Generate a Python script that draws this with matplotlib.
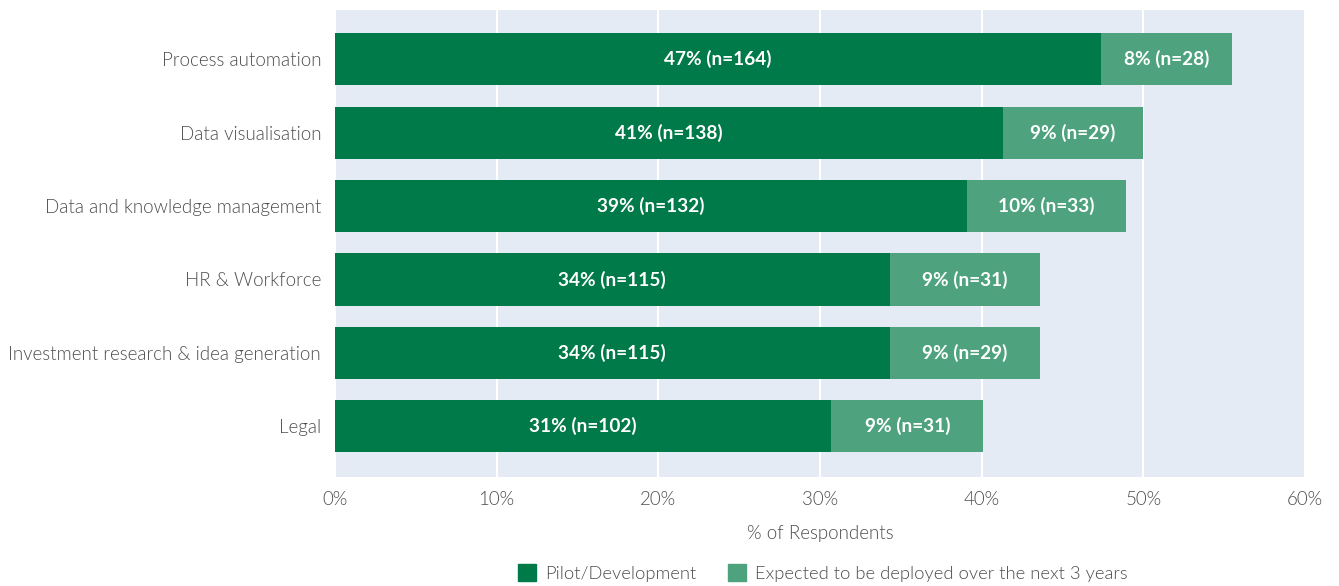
import numpy as np
import matplotlib
matplotlib.use("Agg")
import matplotlib.pyplot as plt
from matplotlib.patches import Patch

# survey results, share of respondents (%) and counts
categories = ["Process automation", "Data visualisation", "Data and knowledge management",
              "HR & Workforce", "Investment research & idea generation", "Legal"]
pilot_pct = [47.4, 41.3, 39.1, 34.3, 34.3, 30.7]
pilot_n = [164, 138, 132, 115, 115, 102]
deploy_pct = [8.1, 8.7, 9.8, 9.3, 9.3, 9.4]
deploy_n = [28, 29, 33, 31, 29, 31]
xticks = [0, 10, 20, 30, 40, 50, 60]

dark = "#007a48"
light = "#4ea37e"
bg = "#e5ebf4"
txt = "#4d4d4d"

plt.rcParams['font.family'] = ['Lato', 'DejaVu Sans']

fig = plt.figure(figsize=(13.39, 5.86), dpi=100)
ax = fig.add_axes([335/1339, 1 - 477/586, 970/1339, 467/586])
ax.set_facecolor(bg)

y = np.arange(len(categories))
h = 0.71
ax.barh(y, pilot_pct, height=h, color=dark, zorder=2)
ax.barh(y, deploy_pct, left=pilot_pct, height=h, color=light, zorder=2)

for i in range(len(categories)):
    ax.text(pilot_pct[i] / 2, y[i], f"{pilot_pct[i]:.0f}% (n={pilot_n[i]})",
            ha="center", va="center", color="white", fontsize=13.7, fontweight="bold", zorder=3)
    ax.text(pilot_pct[i] + deploy_pct[i] / 2, y[i], f"{deploy_pct[i]:.0f}% (n={deploy_n[i]})",
            ha="center", va="center", color="white", fontsize=13.7, fontweight="bold", zorder=3)

ax.set_xlim(0, 60)
ax.set_ylim(5.69, -0.67)
ax.set_xticks(xticks)
ax.set_xticklabels([f"{t}%" for t in xticks])
ax.set_yticks(y)
ax.set_yticklabels(categories)
ax.tick_params(axis="both", length=0, labelsize=13.5, labelcolor=txt)
ax.tick_params(axis="x", pad=10)
ax.tick_params(axis="y", pad=10)
for lab in ax.get_xticklabels() + ax.get_yticklabels():
    lab.set_fontweight(300)
ax.grid(axis="x", color="white", linewidth=1.5, zorder=1)
ax.grid(axis="y", visible=False)
for s in ax.spines.values():
    s.set_visible(False)

ax.set_xlabel("% of Respondents", fontsize=13.5, color=txt, fontweight=300, labelpad=12)

handles = [Patch(color=dark, label="Pilot/Development"),
           Patch(color=light, label="Expected to be deployed over the next 3 years")]
leg = fig.legend(handles=handles, loc="center", bbox_to_anchor=(823/1339, 1 - 573/586),
                 ncol=2, frameon=False, fontsize=13.2, handlelength=1.0, handleheight=1.0,
                 handletextpad=0.5, columnspacing=1.7)
for t in leg.get_texts():
    t.set_color(txt)
    t.set_fontweight(300)

fig.savefig("out.png", dpi=100)
